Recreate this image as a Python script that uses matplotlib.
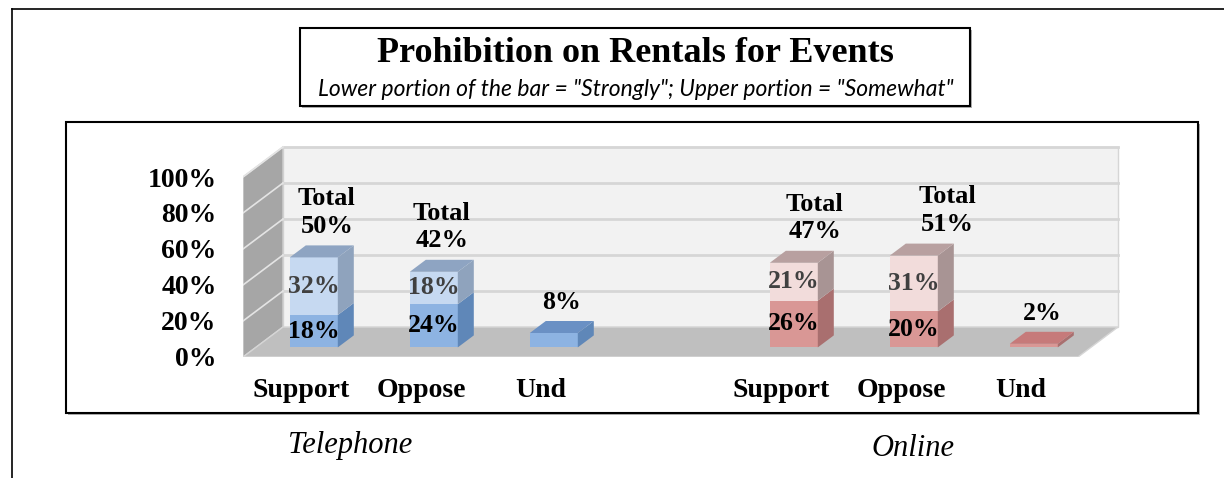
import matplotlib
matplotlib.use("Agg")
import matplotlib.pyplot as plt
from matplotlib.patches import Rectangle, Polygon
from matplotlib.lines import Line2D

# data
modes = ["Telephone", "Online"]
answers = ["Support", "Oppose", "Und"]
strongly = [[18, 24, 8], [26, 20, 2]]   # lower portion of bar
somewhat = [[32, 18, 0], [21, 31, 0]]   # upper portion of bar
totals = [[50, 42, None], [47, 51, None]]
y_ticks = [0, 20, 40, 60, 80, 100]

# colours: (front, side, top) for each portion
colors = {
    "Telephone": {"low": ("#8db3e2", "#5f87b8", "#6a90c4"),
                  "up": ("#c6d9f1", "#8fa3bd", "#8ea4c2")},
    "Online": {"low": ("#d99795", "#a96f6f", "#c67a7a"),
               "up": ("#f2dcdb", "#a89494", "#b8a0a0")},
}

SERIF = "Liberation Serif"
W, H = 1224, 478
fig = plt.figure(figsize=(W / 100, H / 100), dpi=100)


def px_rect(x0, y0, x1, y1):
    # pixel box (origin top left) -> figure fraction rect
    return [x0 / W, 1 - y1 / H, (x1 - x0) / W, (y1 - y0) / H]


# frames
fig.add_artist(Line2D([12 / W, 12 / W], [0, 1 - 9 / H], color="black", lw=1.2))
fig.add_artist(Line2D([12 / W, 1], [1 - 9 / H, 1 - 9 / H], color="black", lw=1.2))
for (x0, y0, x1, y1) in [(300, 28, 970, 106), (66, 122, 1198, 413)]:
    r = px_rect(x0, y0, x1, y1)
    fig.add_artist(Rectangle((r[0] + 2 / W, r[1] - 2 / H), r[2], r[3],
                             transform=fig.transFigure, fc="#b0b0b0", ec="none", zorder=0))
    fig.add_artist(Rectangle((r[0], r[1]), r[2], r[3], transform=fig.transFigure,
                             fc="white", ec="black", lw=1.5, zorder=1))

fig.text(635 / W, 1 - 54 / H, "Prohibition on Rentals for Events", ha="center", va="center",
         family=SERIF, weight="bold", fontsize=26)
fig.text(636 / W, 1 - 89 / H, 'Lower portion of the bar = "Strongly"; Upper portion = "Somewhat"',
         ha="center", va="center", family="Lato", style="italic", fontsize=16.5)

# plot area: x in category slots (120 px each), y in percent (1.8 px each)
ax = fig.add_axes(px_rect(243, 140, 1130, 357))
ax.set_zorder(2)
ax.patch.set_visible(False)
ax.set_xlim(-58 / 120, 829 / 120)
ax.set_ylim(0, 217 / 1.8)
for s in ax.spines.values():
    s.set_visible(False)

DX, DY = 40 / 120, 30 / 1.8   # depth offset, front -> back
D0, D1 = 0.32, 0.72            # bar depth range
BW = 0.4
XL, XR = -58 / 120, 777 / 120  # wall extent on front plane


def proj(x, y, d):
    return x + DX * d, y + DY * d


def poly(pts, fc, z=1, ec="none", lw=0):
    ax.add_patch(Polygon(pts, closed=True, fc=fc, ec=ec, lw=lw, zorder=z))


# walls and floor
poly([proj(XL, 0, 1), proj(XR, 0, 1), proj(XR, 100, 1), proj(XL, 100, 1)], "#f2f2f2",
     ec="#d6d6d6", lw=1)
poly([proj(XL, 0, 0), proj(XL, 0, 1), proj(XL, 100, 1), proj(XL, 100, 0)], "#a6a6a6",
     ec="#d0d0d0", lw=1)
for v in y_ticks[1:]:
    ax.plot(*zip(proj(XL, v, 1), proj(XR, v, 1)), color="#d6d6d6", lw=2, zorder=1.5)
    ax.plot(*zip(proj(XL, v, 0), proj(XL, v, 1)), color="#e4e4e4", lw=1.2, zorder=1.5)
poly([proj(XL, 0, 0), proj(XR, 0, 0), proj(XR, 0, 1), proj(XL, 0, 1)], "#bfbfbf", z=1.6,
     ec="#d6d6d6", lw=1)

# bars
slots = []
total_nudge = [[5, 0], [13, 26]]  # px, label placement tweak
for g, mode in enumerate(modes):
    for j, ans in enumerate(answers):
        x = g * 4 + j
        slots.append(x)
        lo, up = strongly[g][j], somewhat[g][j]
        segs = [(0, lo, "low")]
        if up:
            segs.append((lo, up, "up"))
        for k, (b, v, part) in enumerate(segs):
            front, side, top = colors[mode][part]
            ax.bar(x + DX * D0, v, width=BW, bottom=b + DY * D0, color=front, lw=0, zorder=3)
            xr = x + BW / 2
            poly([proj(xr, b, D0), proj(xr, b, D1), proj(xr, b + v, D1), proj(xr, b + v, D0)],
                 side, z=3)
            if k == len(segs) - 1:
                t = b + v
                poly([proj(x - BW / 2, t, D0), proj(xr, t, D0), proj(xr, t, D1),
                      proj(x - BW / 2, t, D1)], top, z=3)
        if up:
            cx = x + DX * D0
            ax.text(cx, lo / 2 + DY * D0, f"{lo}%", ha="center", va="center", family=SERIF,
                    weight="bold", fontsize=18.5, color="black", zorder=4)
            ax.text(cx, lo + up / 2 + DY * D0, f"{up}%", ha="center", va="center",
                    family=SERIF, weight="bold", fontsize=18.5, color="#404040", zorder=4)
        else:
            mx, my = proj(x, lo, (D0 + D1) / 2)
            ax.text(mx, my + 13 / 1.8, f"{lo}%", ha="center", va="bottom", family=SERIF,
                    weight="bold", fontsize=18.5, color="black", zorder=4)
        if totals[g][j] is not None:
            mx, my = proj(x, totals[g][j], (D0 + D1) / 2)
            ax.text(mx + total_nudge[g][j] / 120, my + 39 / 1.8, f"Total\n{totals[g][j]}%",
                    ha="center", va="center", linespacing=1.25, family=SERIF,
                    weight="bold", fontsize=19, zorder=4)

ax.set_yticks(y_ticks, [f"{v}%" for v in y_ticks])
ax.set_xticks(slots, answers * len(modes))
ax.tick_params(length=0)
ax.tick_params(axis="y", pad=19)
ax.tick_params(axis="x", pad=15)
for lab in ax.get_xticklabels() + ax.get_yticklabels():
    lab.set_family(SERIF)
    lab.set_weight("bold")
    lab.set_fontsize(20)

fig.text(350 / W, 1 - 445 / H, "Telephone", ha="center", va="center", family=SERIF,
         style="italic", fontsize=22)
fig.text(913 / W, 1 - 448 / H, "Online", ha="center", va="center", family=SERIF,
         style="italic", fontsize=22)

fig.savefig("out.png", dpi=100)
